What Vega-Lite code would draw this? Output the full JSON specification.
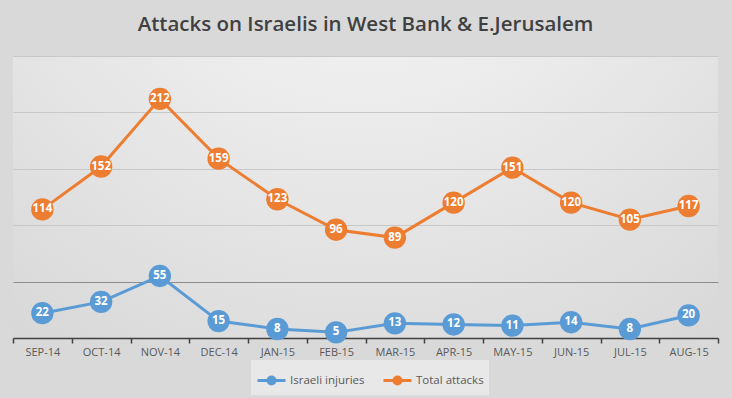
{
  "$schema": "https://vega.github.io/schema/vega-lite/v6.json",
  "width": 705,
  "height": 282,
  "autosize": {"type": "none"},
  "padding": {"left": 13, "top": 56, "right": 14, "bottom": 60},
  "background": "#d9d9d9",
  "config": {
    "font": "Open Sans",
    "view": {
      "stroke": null,
      "fill": {"gradient": "radial", "x1": 0.5, "y1": 0, "r1": 0, "x2": 0.5, "y2": 0, "r2": 1.15,
        "stops": [{"offset": 0, "color": "#fbfbfb"}, {"offset": 1, "color": "#cccccc"}]}
    }
  },
  "title": {
    "text": "Attacks on Israelis in West Bank & E.Jerusalem",
    "font": "Open Sans", "fontSize": 20.5, "fontWeight": 600, "color": "#404040",
    "baseline": "alphabetic", "offset": 5
  },
  "data": {"values": [
    {"month": "SEP-14", "series": "Israeli injuries", "value": 22},
    {"month": "OCT-14", "series": "Israeli injuries", "value": 32},
    {"month": "NOV-14", "series": "Israeli injuries", "value": 55},
    {"month": "DEC-14", "series": "Israeli injuries", "value": 15},
    {"month": "JAN-15", "series": "Israeli injuries", "value": 8},
    {"month": "FEB-15", "series": "Israeli injuries", "value": 5},
    {"month": "MAR-15", "series": "Israeli injuries", "value": 13},
    {"month": "APR-15", "series": "Israeli injuries", "value": 12},
    {"month": "MAY-15", "series": "Israeli injuries", "value": 11},
    {"month": "JUN-15", "series": "Israeli injuries", "value": 14},
    {"month": "JUL-15", "series": "Israeli injuries", "value": 8},
    {"month": "AUG-15", "series": "Israeli injuries", "value": 20},
    {"month": "SEP-14", "series": "Total attacks", "value": 114},
    {"month": "OCT-14", "series": "Total attacks", "value": 152},
    {"month": "NOV-14", "series": "Total attacks", "value": 212},
    {"month": "DEC-14", "series": "Total attacks", "value": 159},
    {"month": "JAN-15", "series": "Total attacks", "value": 123},
    {"month": "FEB-15", "series": "Total attacks", "value": 96},
    {"month": "MAR-15", "series": "Total attacks", "value": 89},
    {"month": "APR-15", "series": "Total attacks", "value": 120},
    {"month": "MAY-15", "series": "Total attacks", "value": 151},
    {"month": "JUN-15", "series": "Total attacks", "value": 120},
    {"month": "JUL-15", "series": "Total attacks", "value": 105},
    {"month": "AUG-15", "series": "Total attacks", "value": 117}
  ]},
  "encoding": {
    "x": {
      "field": "month", "type": "ordinal", "sort": null,
      "scale": {"type": "band", "paddingInner": 0, "paddingOuter": 0},
      "axis": {
        "title": null, "labelAngle": 0, "tickBand": "extent", "grid": false,
        "domainColor": "#404040", "domainWidth": 1.5, "tickColor": "#404040", "tickWidth": 1.5, "tickSize": 5,
        "labelColor": "#595959", "labelFontSize": 11, "labelPadding": 3, "labelFont": "Open Sans"
      }
    },
    "y": {
      "field": "value", "type": "quantitative",
      "scale": {"domain": [0, 250]},
      "axis": {"title": null, "labels": false, "ticks": false, "domain": false, "grid": true,
        "values": [50, 100, 150, 200, 250],
        "gridColor": {"condition": {"test": "datum.value <= 50", "value": "#8c8c8c"}, "value": "#c8c8c8"},
        "gridWidth": 1}
    },
    "color": {
      "field": "series", "type": "nominal",
      "scale": {"domain": ["Israeli injuries", "Total attacks"], "range": ["#5B9BD5", "#ED7D31"]},
      "legend": {
        "title": null, "orient": "none", "direction": "horizontal", "legendX": 238, "legendY": 304,
        "fillColor": "#e8e8e8", "padding": 5,
        "symbolType": "M-1,0H1M0.25,0A0.25,0.25 0 1,1 -0.25,0A0.25,0.25 0 1,1 0.25,0Z",
        "symbolSize": 784, "symbolStrokeWidth": 3,
        "labelColor": "#595959", "labelFontSize": 11.5, "labelFont": "Open Sans", "columnPadding": 12, "labelOffset": 3
      }
    }
  },
  "layer": [
    {"mark": {"type": "line", "strokeWidth": 3}},
    {"mark": {"type": "point", "filled": true, "size": 500, "opacity": 1}},
    {"mark": {"type": "text", "fontWeight": "bold", "fontSize": 11.5, "font": "Open Sans"},
     "encoding": {"text": {"field": "value", "type": "quantitative"}, "color": {"value": "white"}}}
  ]
}
